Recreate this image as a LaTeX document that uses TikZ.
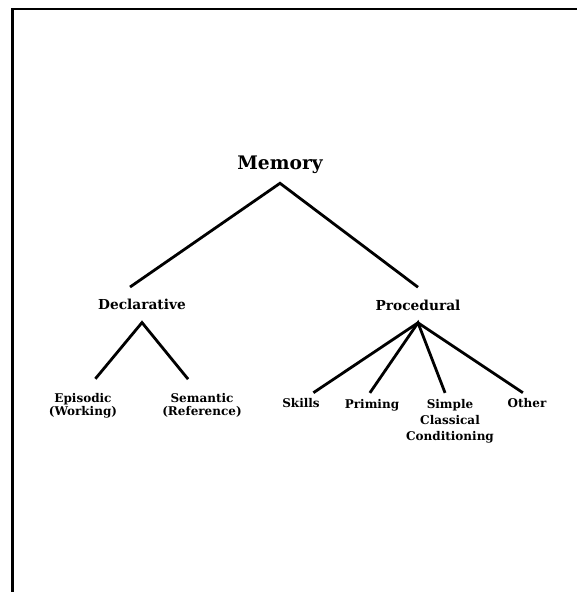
\documentclass[tikz,border=0pt]{standalone}
\usepackage{fontspec}
\setmainfont{DejaVu Serif}
\usepackage{tikz}

\begin{document}
\begin{tikzpicture}[x=0.75pt, y=-0.75pt,
    frame/.style={line width=2pt, black},
    branch/.style={line width=2.1pt, black, line join=miter},
    rootnode/.style={font=\fontsize{14}{17}\selectfont\bfseries, inner xsep=0pt, inner ysep=0pt, minimum height=27.75pt},
    midnode/.style={font=\fontsize{10.3}{12}\selectfont\bfseries, inner xsep=0pt, inner ysep=0pt, minimum height=26.25pt},
    declleaf/.style={font=\fontsize{9}{9.75}\selectfont\bfseries, align=center, inner xsep=0pt, inner ysep=10.4pt},
    procleaf/.style={font=\fontsize{9}{12}\selectfont\bfseries, align=center, inner xsep=0pt, inner ysep=4.4pt}]

    \useasboundingbox (0,0) rectangle (577,592);

    % === Frame (top and left edge of the page) ===
    \draw[frame] (577,9) -- (12.5,9) -- (12.5,592);

    % === Root and first level ===
    \node[rootnode] (mem) at (280,164.5) {Memory};
    \node[midnode] (decl) at (142,304.8) {Declarative};
    \node[midnode] (proc) at (418,305) {Procedural};

    % === Declarative leaves ===
    \node[declleaf] (epi) at (83,405.3) {Episodic\\(Working)};
    \node[declleaf] (sem) at (202,405.3) {Semantic\\(Reference)};

    % === Procedural leaves ===
    \node[procleaf] (skl) at (301,403.5) {Skills};
    \node[procleaf] (prim) at (372,404.9) {Priming};
    \node[procleaf] (simp) at (450,420.9) {Simple\\Classical\\Conditioning};
    \node[procleaf] (oth) at (527,403.5) {Other};

    % === Branches ===
    \draw[branch] (decl.124) -- (mem.south) -- (proc.north);
    \draw[branch] (epi.65) -- (decl.south) -- (sem.118);
    \draw[branch] (skl.41) -- (proc.south) -- (oth.111);
    \draw[branch] (prim.100) -- (proc.south) -- (simp.100);

\end{tikzpicture}
\end{document}
